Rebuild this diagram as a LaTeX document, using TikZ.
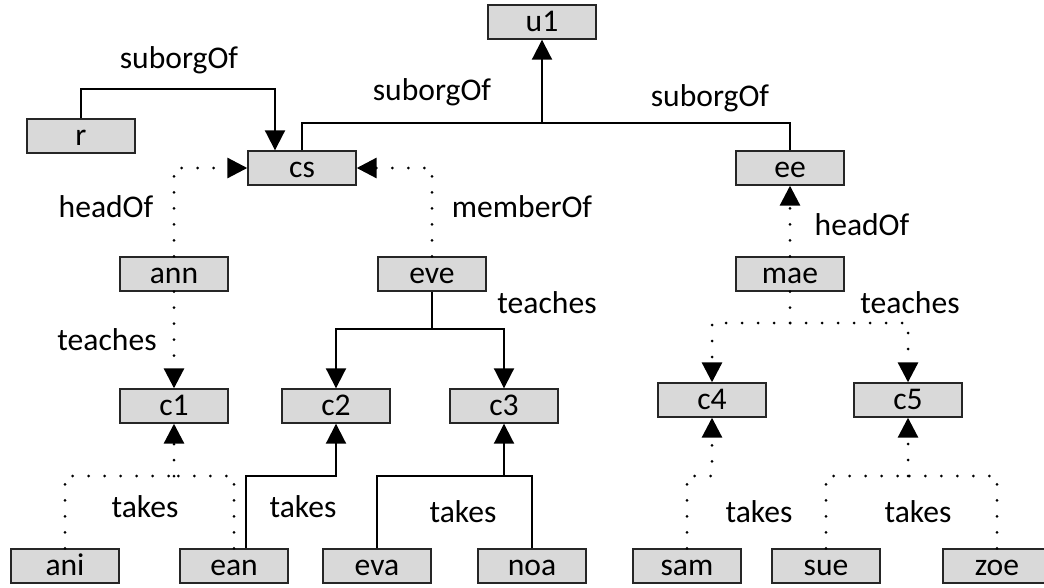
\documentclass[tikz,border=0pt]{standalone}
\usepackage{fontspec}
\setmainfont{Carlito}
\usetikzlibrary{arrows.meta}
\definecolor{boxfill}{HTML}{D9D9D9}
\tikzset{
  every node/.style={font=\fontsize{31.6}{36}\selectfont},
  entity/.style={draw=black!85, line width=1.4pt, fill=boxfill,
    minimum width=108pt, minimum height=34pt, inner sep=0pt,
    text height=21pt, text depth=2pt},
  lbl/.style={anchor=base, inner sep=0pt},
  headtip/.style={-{Triangle[length=20pt,width=20pt]}},
  solidrel/.style={line width=2pt, black},
  dotrel/.style={line width=3pt, black, line cap=round, dash pattern=on 0pt off 16pt},
}
\begin{document}
\begin{tikzpicture}[x=1pt,y=-1pt]
\clip (0,0) rectangle (1044,587);
\fill[white] (0,0) rectangle (1044,587);

% entities
\node[entity] (u1)  at (542,22)  {u1};
\node[entity] (r)   at (81,136)  {r};
\node[entity] (cs)  at (302,168) {cs};
\node[entity] (ee)  at (790,168) {ee};
\node[entity] (ann) at (174,274) {ann};
\node[entity] (eve) at (432,274) {eve};
\node[entity] (mae) at (790,274) {mae};
\node[entity] (c1)  at (174,406) {c1};
\node[entity] (c2)  at (336,406) {c2};
\node[entity] (c3)  at (504,406) {c3};
\node[entity] (c4)  at (712,400) {c4};
\node[entity] (c5)  at (908,400) {c5};
\node[entity] (ani) at (65,566)  {ani};
\node[entity] (ean) at (234,566) {ean};
\node[entity] (eva) at (377,566) {eva};
\node[entity] (noa) at (532,566) {noa};
\node[entity] (sam) at (687,566) {sam};
\node[entity] (sue) at (826,566) {sue};
\node[entity] (zoe) at (997,566) {zoe};

% levels of the elbow connectors
\coordinate (yr)   at (0,89);
\coordinate (yorg) at (0,123);
\coordinate (yeve) at (0,329);
\coordinate (ymae) at (0,323);
\coordinate (ytk)  at (0,476);

% suborgOf
\draw[solidrel,headtip] (r.north) -- (r.north |- yr) -| ([xshift=-27pt]cs.north);
\coordinate (jorg) at (u1.south |- yorg);
\draw[solidrel] (cs.north) |- (jorg) -| (ee.north);
\draw[solidrel,headtip] (jorg) -- (u1.south);

% headOf / memberOf
\draw[dotrel,headtip] (ann.north) |- (cs.west);
\draw[dotrel,headtip] (eve.north) |- (cs.east);
\draw[dotrel,headtip] (mae.north) -- (ee.south);

% teaches
\draw[dotrel,headtip] (ann.south) -- (c1.north);
\coordinate (jeve) at (eve.south |- yeve);
\draw[solidrel] (eve.south) -- (jeve);
\draw[solidrel,headtip] (jeve) -| (c2.north);
\draw[solidrel,headtip] (jeve) -| (c3.north);
\coordinate (jmae) at (mae.south |- ymae);
\draw[dotrel] (mae.south) -- (jmae);
\draw[dotrel,headtip] (jmae) -| (c4.north);
\draw[dotrel,headtip] (jmae) -| (c5.north);

% takes
\coordinate (jc1) at (c1.south |- ytk);
\draw[dotrel] (ani.north) |- (jc1);
\draw[dotrel] (ean.north) |- (jc1);
\draw[dotrel,headtip] (jc1) -- (c1.south);
\draw[solidrel,headtip] ([xshift=12pt]ean.north) |- (c2.south |- ytk) -- (c2.south);
\coordinate (jc3) at (c3.south |- ytk);
\draw[solidrel] (eva.north) |- (jc3);
\draw[solidrel] (noa.north) |- (jc3);
\draw[solidrel,headtip] (jc3) -- (c3.south);
\draw[dotrel,headtip] (sam.north) |- (c4.south |- ytk) -- (c4.south);
\coordinate (jc5) at (c5.south |- ytk);
\draw[dotrel] (sue.north) |- (jc5);
\draw[dotrel] (zoe.north) |- (jc5);
\draw[dotrel,headtip] (jc5) -- (c5.south);

% relation labels
\node[lbl] (l1)  at (179,68)  {suborgOf};
\node[lbl] (l2)  at (432,100) {suborgOf};
\node[lbl] (l3)  at (710,106) {suborgOf};
\node[lbl] (l4)  at (106,217) {headOf};
\node[lbl] (l5)  at (522,217) {memberOf};
\node[lbl] (l6)  at (862,235) {headOf};
\node[lbl] (l7)  at (107,350) {teaches};
\node[lbl] (l8)  at (547,313) {teaches};
\node[lbl] (l9)  at (910,313) {teaches};
\node[lbl] (l10) at (145,517) {takes};
\node[lbl] (l11) at (303,517) {takes};
\node[lbl] (l12) at (463,522) {takes};
\node[lbl] (l13) at (759,522) {takes};
\node[lbl] (l14) at (918,522) {takes};
\end{tikzpicture}
\end{document}
